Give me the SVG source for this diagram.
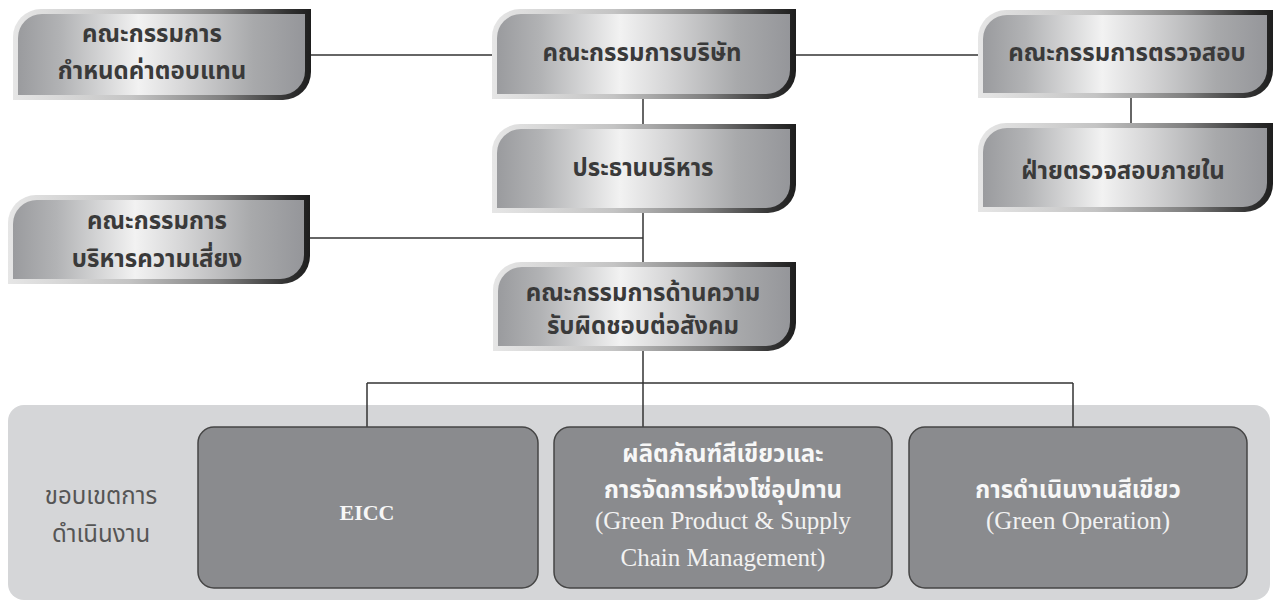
<svg xmlns="http://www.w3.org/2000/svg" width="1277" height="608" viewBox="0 0 1277 608">
<defs>
<linearGradient id="rim" x1="0" y1="0" x2="1" y2="0">
<stop offset="0" stop-color="#e6e6e6"/>
<stop offset="0.4" stop-color="#c4c4c4"/>
<stop offset="0.7" stop-color="#808080"/>
<stop offset="0.92" stop-color="#333"/>
<stop offset="1" stop-color="#1e1e1e"/>
</linearGradient>
<linearGradient id="face" x1="0" y1="0" x2="1" y2="0">
<stop offset="0" stop-color="#9a9b9e"/>
<stop offset="0.15" stop-color="#b2b3b5"/>
<stop offset="0.42" stop-color="#f2f2f2"/>
<stop offset="0.58" stop-color="#d6d6d7"/>
<stop offset="0.82" stop-color="#a8a9ab"/>
<stop offset="1" stop-color="#95969a"/>
</linearGradient>
</defs>
<style>
.rim{fill:url(#rim)}
.face{fill:url(#face)}
.nt{font-family:'Noto Sans Thai','Noto Sans','DejaVu Sans',sans-serif;font-weight:bold;font-size:24px;fill:#3a3a3a;text-anchor:middle}
.line{stroke:#333;stroke-width:1.5;fill:none}
.panel{fill:#d5d6d8}
.box{fill:#8a8b8e;stroke:#454545;stroke-width:1.5}
.bt{font-family:'Noto Sans Thai','Noto Sans','DejaVu Sans',sans-serif;font-weight:bold;font-size:24px;fill:#f7f7f7;text-anchor:middle}
.be{font-family:'Liberation Serif','Times New Roman',serif;font-size:25px;fill:#f2f2f2;text-anchor:middle}
.eicc{font-family:'Liberation Serif','Times New Roman',serif;font-size:22px;font-weight:bold;fill:#f7f7f7;text-anchor:middle}
.lbl{font-family:'Noto Sans Thai','Noto Sans','DejaVu Sans',sans-serif;font-size:24px;fill:#555;text-anchor:middle}
</style>
<rect class="panel" x="8" y="405" width="1262" height="195" rx="16"/>
<g id="connectors">
<path class="line" d="M311,55 H492"/>
<path class="line" d="M796,55 H978"/>
<path class="line" d="M643,99 V124"/>
<path class="line" d="M1131,98 V123"/>
<path class="line" d="M643,213 V262"/>
<path class="line" d="M310,238 H643"/>
<path class="line" d="M643,351 V427"/>
<path class="line" d="M367,383 H1073"/>
<path class="line" d="M367,383 V427"/>
<path class="line" d="M1073,383 V427"/>
</g>
<g id="n-remuneration">
<path class="rim" d="M41,9 H311 V72 A28,28 0 0 1 283,100 H13 V37 A28,28 0 0 1 41,9 Z"/>
<path class="face" d="M42,14 H305 V71 A24,24 0 0 1 281,95 H18 V38 A24,24 0 0 1 42,14 Z"/>
<text class="nt" x="152" y="42">คณะกรรมการ</text>
<text class="nt" x="152" y="79">กำหนดค่าตอบแทน</text>
</g>
<g id="n-board">
<path class="rim" d="M520,9 H796 V71 A28,28 0 0 1 768,99 H492 V37 A28,28 0 0 1 520,9 Z"/>
<path class="face" d="M521,14 H790 V70 A24,24 0 0 1 766,94 H497 V38 A24,24 0 0 1 521,14 Z"/>
<text class="nt" x="642" y="61">คณะกรรมการบริษัท</text>
</g>
<g id="n-audit">
<path class="rim" d="M1006,10 H1273 V70 A28,28 0 0 1 1245,98 H978 V38 A28,28 0 0 1 1006,10 Z"/>
<path class="face" d="M1007,15 H1267 V69 A24,24 0 0 1 1243,93 H983 V39 A24,24 0 0 1 1007,15 Z"/>
<text class="nt" x="1127" y="61">คณะกรรมการตรวจสอบ</text>
</g>
<g id="n-internal-audit">
<path class="rim" d="M1006,123 H1273 V184 A28,28 0 0 1 1245,212 H978 V151 A28,28 0 0 1 1006,123 Z"/>
<path class="face" d="M1007,128 H1267 V183 A24,24 0 0 1 1243,207 H983 V152 A24,24 0 0 1 1007,128 Z"/>
<text class="nt" x="1123" y="179">ฝ่ายตรวจสอบภายใน</text>
</g>
<g id="n-ceo">
<path class="rim" d="M520,124 H796 V185 A28,28 0 0 1 768,213 H492 V152 A28,28 0 0 1 520,124 Z"/>
<path class="face" d="M521,129 H790 V184 A24,24 0 0 1 766,208 H497 V153 A24,24 0 0 1 521,129 Z"/>
<text class="nt" x="643" y="176">ประธานบริหาร</text>
</g>
<g id="n-risk">
<path class="rim" d="M36,195 H310 V256 A28,28 0 0 1 282,284 H8 V223 A28,28 0 0 1 36,195 Z"/>
<path class="face" d="M37,200 H304 V255 A24,24 0 0 1 280,279 H13 V224 A24,24 0 0 1 37,200 Z"/>
<text class="nt" x="157" y="229">คณะกรรมการ</text>
<text class="nt" x="157" y="267">บริหารความเสี่ยง</text>
</g>
<g id="n-csr">
<path class="rim" d="M521,262 H796 V323 A28,28 0 0 1 768,351 H493 V290 A28,28 0 0 1 521,262 Z"/>
<path class="face" d="M522,267 H790 V322 A24,24 0 0 1 766,346 H498 V291 A24,24 0 0 1 522,267 Z"/>
<text class="nt" x="643" y="301">คณะกรรมการด้านความ</text>
<text class="nt" x="643" y="334">รับผิดชอบต่อสังคม</text>
</g>
<g id="scope-label">
<text class="lbl" x="101" y="504">ขอบเขตการ</text>
<text class="lbl" x="101" y="542">ดำเนินงาน</text>
</g>
<g id="n-eicc">
<rect class="box" x="198" y="427" width="340" height="161" rx="16"/>
<text class="eicc" x="367" y="520">EICC</text>
</g>
<g id="n-green-product">
<rect class="box" x="554" y="427" width="338" height="161" rx="16"/>
<text class="bt" x="723" y="462">ผลิตภัณฑ์สีเขียวและ</text>
<text class="bt" x="723" y="498">การจัดการห่วงโซ่อุปทาน</text>
<text class="be" x="723" y="529">(Green Product &amp; Supply</text>
<text class="be" x="723" y="566">Chain Management)</text>
</g>
<g id="n-green-operation">
<rect class="box" x="909" y="427" width="338" height="161" rx="16"/>
<text class="bt" x="1078" y="498">การดำเนินงานสีเขียว</text>
<text class="be" x="1078" y="529">(Green Operation)</text>
</g>
</svg>
